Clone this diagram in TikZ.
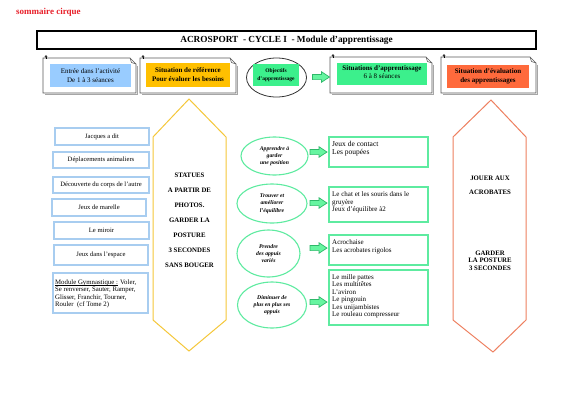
\documentclass[tikz,border=0pt]{standalone}
\usepackage{fontspec}
\setmainfont{Liberation Serif}
\usetikzlibrary{shapes.geometric}
\definecolor{titlered}{HTML}{E8202A}
\definecolor{hdrblue}{HTML}{99CCFF}
\definecolor{hdrorange}{HTML}{FFC000}
\definecolor{hdrgreen}{HTML}{3CF08C}
\definecolor{hdrred}{HTML}{FF6A3C}
\definecolor{lblue}{HTML}{A8CDF0}
\definecolor{hexyellow}{HTML}{F5C73A}
\definecolor{lgreen}{HTML}{5EEBA0}
\definecolor{hexred}{HTML}{EE8060}
\definecolor{arrgreen}{HTML}{66F5A0}
\definecolor{arrdark}{HTML}{2FB86A}
\newlength{\ulw}
\newcommand{\thickul}[1]{\settowidth{\ulw}{#1}\rlap{\rule[-1.3pt]{\ulw}{0.55pt}}#1}
\newcommand{\notebox}[4]{%
  \draw[gray!70,line width=0.8] (#3+1.6,#2+7.5) -- (#3+1.6,#4+1.6) -- (#1+1.6,#4+1.6);
  \draw[gray!70!black,line width=0.6,fill=white] (#1,#2) -- (#3-6,#2) -- (#3,#2+6) -- (#3,#4) -- (#1,#4) -- cycle;
  \draw[gray!70!black,line width=0.5] (#3-6,#2) -- (#3-4.5,#2+4.5) -- (#3,#2+6);
  \draw[black,line width=0.6] (#1+3,#2-2) -- (#1+3,#2+1);
  \fill[black!80] (#1+3,#2-1.5) circle (1.3);
}
% block arrow: left x, centre y
\newcommand{\blockarrow}[2]{%
  \draw[arrdark,fill=arrgreen,line width=0.7,line join=miter]
    (#1,#2-2.6) -- (#1+9,#2-2.6) -- (#1+9,#2-5.3) -- (#1+17,#2) -- (#1+9,#2+5.3) -- (#1+9,#2+2.6) -- (#1,#2+2.6) -- cycle;
}
\tikzset{
  lbox/.style={draw=lblue,line width=1.4,fill=white,inner sep=0,font=\fontsize{6.6}{8}\selectfont},
  gbox/.style={draw=lgreen,line width=1.5,fill=white,inner sep=0},
  gtext/.style={anchor=north west,inner sep=0,align=left,font=\fontsize{7}{7.5}\selectfont},
  gell/.style={ellipse,draw=lgreen,line width=1.1,inner sep=0,align=center,font=\fontsize{5.7}{7.3}\selectfont\bfseries\itshape},
  hdr/.style={inner sep=0,align=center,font=\fontsize{7}{9}\selectfont},
  hextext/.style={inner sep=0,font=\fontsize{6.8}{8}\selectfont\bfseries},
}
\begin{document}
\begin{tikzpicture}[x=1pt,y=-1pt]
\useasboundingbox (0,0) rectangle (565,400);
\fill[white] (0,0) rectangle (565,400);
% top label
\node[inner sep=0,anchor=west,text=titlered,font=\fontsize{9}{10}\selectfont\bfseries] (somm) at (16,12.7) {sommaire cirque};
% title box
\node[draw=black,line width=1.2,minimum width=499,minimum height=18,inner sep=0,font=\fontsize{9.3}{10}\selectfont\bfseries] (title) at (286.5,40) {ACROSPORT\ \ - CYCLE I\ \ - Module d'apprentissage};
% header note boxes
\notebox{43}{58}{136}{93}
\notebox{140}{58}{236}{93}
\notebox{330}{57}{432}{93}
\notebox{441}{57}{536}{93}
\node[hdr,fill=hdrblue,minimum width=81,minimum height=23] (h1) at (90.5,75.5) {Entrée dans l'activité\\De 1 à 3 séances};
\node[hdr,fill=hdrorange,minimum width=84,minimum height=24,font=\fontsize{7}{9}\selectfont\bfseries] (h2) at (188,75) {Situation de référence\\Pour évaluer les besoins};
\node[ellipse,draw=black!80,line width=0.8,minimum width=60,minimum height=39,inner sep=0] (hell) at (276.5,77.5) {};
\node[hdr,fill=hdrgreen,minimum width=46,minimum height=22,font=\fontsize{5.5}{7.5}\selectfont\bfseries] (h3) at (276,75) {Objectifs\\d'apprentissage};
\blockarrow{312.5}{77}
\node[fill=hdrgreen,minimum width=90,minimum height=22,inner sep=0] (h4) at (382,74) {};
\node[hdr,font=\fontsize{7}{8.5}\selectfont] (h4t) at (382,72) {\textbf{Situations d'apprentissage}\\6 à 8 séances};
\node[hdr,fill=hdrred,minimum width=82,minimum height=23,font=\fontsize{7}{9}\selectfont\bfseries] (h5) at (488,76.5) {Situation d'évaluation\\des apprentissages};
% left column boxes
\node[lbox,minimum width=94,minimum height=17] (l1) at (102,136.5) {Jacques a dit};
\node[lbox,minimum width=96,minimum height=16] (l2) at (101,160) {Déplacements animaliers};
\node[lbox,minimum width=96,minimum height=16] (l3) at (101,185) {Découverte du corps de l'autre};
\node[lbox,minimum width=94,minimum height=17] (l4) at (99,207.5) {Jeux de marelle};
\node[lbox,minimum width=95,minimum height=17] (l5) at (101.5,230.5) {Le miroir};
\node[lbox,minimum width=94,minimum height=20] (l6) at (101,255) {Jeux dans l'espace};
\node[lbox,minimum width=95,minimum height=40] (l7) at (100.5,293) {};
\node[inner sep=0,anchor=north west,align=left,font=\fontsize{6.8}{7.4}\selectfont] (l7t) at (55,279.5) {\thickul{Module Gymnastique :} Voler,\\Se renverser, Sauter, Ramper,\\Glisser, Franchir, Tourner,\\Rouler\ \ (cf Tome 2)};
% yellow hexagon
\draw[hexyellow,line width=1] (189,99) -- (226,137) -- (226,320) -- (189,351) -- (153,320) -- (153,137) -- cycle;
\node[hextext] (y1) at (189.5,175) {STATUES};
\node[hextext] (y2) at (189.5,190) {A PARTIR DE};
\node[hextext] (y3) at (189.5,205) {PHOTOS.};
\node[hextext] (y4) at (189.5,220) {GARDER LA};
\node[hextext] (y5) at (189.5,235) {POSTURE};
\node[hextext] (y6) at (189.5,250) {3 SECONDES};
\node[hextext] (y7) at (189.5,265) {SANS BOUGER};
% green ellipses
\node[gell,minimum width=67,minimum height=38] (e1) at (274.5,156) {Apprendre à\\garder\\une position};
\node[gell,minimum width=70,minimum height=39] (e2) at (272,203.5) {Trouver et\\améliorer\\l'équilibre};
\node[gell,minimum width=63,minimum height=47] (e3) at (268.5,253.5) {Prendre\\des appuis\\variés};
\node[gell,minimum width=69,minimum height=46] (e4) at (272,305) {Diminuer de\\plus en plus ses\\appuis};
% block arrows
\blockarrow{310}{152}
\blockarrow{310}{203}
\blockarrow{310}{248}
\blockarrow{310}{302}
% green boxes
\node[gbox,minimum width=99,minimum height=30] (g1) at (378.5,152) {};
\node[gbox,minimum width=99,minimum height=35] (g2) at (378.5,204.5) {};
\node[gbox,minimum width=99,minimum height=30] (g3) at (378.5,250) {};
\node[gbox,minimum width=99,minimum height=55] (g4) at (378.5,297.5) {};
\node[gtext,font=\fontsize{7.5}{8}\selectfont] (g1t) at (332,141) {Jeux de contact\\Les poupées};
\node[gtext] (g2t) at (332,191.5) {Le chat et les souris dans le\\gruyère\\Jeux d'équilibre à2};
\node[gtext,font=\fontsize{7}{8.5}\selectfont] (g3t) at (332,239) {Acrochaise\\Les acrobates rigolos};
\node[gtext,font=\fontsize{7}{7.4}\selectfont] (g4t) at (332,274.5) {Le mille pattes\\Les multitêtes\\L'aviron\\Le pingouin\\Les unijambistes\\Le rouleau compresseur};
% red hexagon
\draw[hexred,line width=1] (491,100) -- (526,137) -- (526,320) -- (493,352) -- (453,320) -- (453,137) -- cycle;
\node[hextext] (r1) at (490,178) {JOUER AUX};
\node[hextext] (r2) at (490,192.5) {ACROBATES};
\node[hextext,align=center,font=\fontsize{6.8}{7.6}\selectfont\bfseries] (r3) at (490,260.5) {GARDER\\LA POSTURE\\3 SECONDES};
\end{tikzpicture}
\end{document}
